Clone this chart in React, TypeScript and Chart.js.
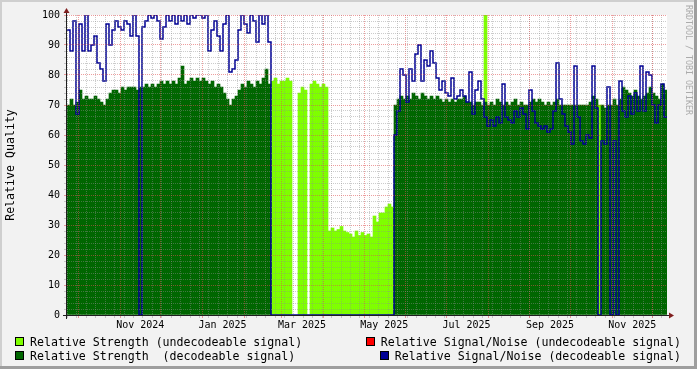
import React, { useEffect, useRef } from 'react';
import { Chart, registerables } from 'chart.js';

Chart.register(...registerables);

const MONO = '"DejaVu Sans Mono", monospace';

// ---- time axis -------------------------------------------------------------
const START_UTC = Date.UTC(2024, 8, 22, 16); // left edge of the plot
const SPAN_DAYS = 445.1; // width of the plot in days
const SAMPLE_COUNT = 200;
const STEP_DAYS = SPAN_DAYS / SAMPLE_COUNT;
const FIRST_WEEK: [number, number, number] = [2024, 8, 23];
const FIRST_MONTH: [number, number] = [2024, 9];

const X_LABELS = ['Nov 2024', 'Jan 2025', 'Mar 2025', 'May 2025', 'Jul 2025', 'Sep 2025', 'Nov 2025'];
const X_LABEL_MONTHS: [number, number][] = [
  [2024, 10], [2025, 0], [2025, 2], [2025, 4], [2025, 6], [2025, 8], [2025, 10],
];
const Y_LABELS = [0, 10, 20, 30, 40, 50, 60, 70, 80, 90, 100];
const Y_MINOR_STEP = 2;

const _ = null;

// ---- series (one value per sample) ------------------------------------------
const STRENGTH_DECODEABLE: (number | null)[] = [
  70, 72, 70, 71, 75, 72, 73, 72, 72, 73,
  72, 71, 70, 72, 74, 75, 75, 74, 76, 75,
  76, 76, 76, 75, 76, 76, 77, 76, 77, 76,
  77, 78, 77, 78, 77, 78, 77, 79, 83, 77,
  78, 79, 78, 79, 78, 79, 78, 77, 78, 76,
  77, 76, 74, 72, 70, 72, 73, 75, 77, 76,
  78, 77, 76, 78, 77, 79, 82, 77,
  _, _, _, _, _, _, _, _, _, _,
  _, _, _, _, _, _, _, _, _, _,
  _, _, _, _, _, _, _, _, _, _,
  _, _, _, _, _, _, _, _, _, _,
  _,
  70, 72, 73, 72, 73, 72, 74, 73, 72, 74, 73,
  72, 73, 72, 73, 72, 71, 72, 71, 72, 71, 72,
  72, 73, 71, 71, 70, 71, 71, 70, 71, 70,
  71, 70, 72, 71, 70, 71, 70, 71, 72, 70,
  71, 70, 70, 71, 72, 71, 72, 71, 70, 71,
  70, 71, 72, 70, 70, 70, 70, 70, 70, 70,
  70, 70, 70, 71, 73, 72,
  _,
  70, 69, 70, 70, 72, 70, 72,
  76, 75, 74, 73, 75, 73, 72, 73, 74, 76, 74, 73, 72, 77, 75,
];

const STRENGTH_UNDECODEABLE: (number | null)[] = [
  _, _, _, _, _, _, _, _, _, _,
  _, _, _, _, _, _, _, _, _, _,
  _, _, _, _, _, _, _, _, _, _,
  _, _, _, _, _, _, _, _, _, _,
  _, _, _, _, _, _, _, _, _, _,
  _, _, _, _, _, _, _, _, _, _,
  _, _, _, _, _, _, _, _,
  78, 79, 77, 78, 78, 79, 78,
  _, _,
  74, 76, 75,
  _,
  77, 78, 77, 76, 77, 76,
  28, 29, 28, 28.5, 29.5, 28, 27.5, 27, 26, 28, 26.5, 27.5, 26.5, 27, 26,
  33, 31, 34, 34, 36, 37, 36,
  _, _, _, _, _, _, _, _, _, _,
  _, _, _, _, _, _, _, _, _, _,
  _, _, _, _, _, _, _, _, _, _,
  100,
  _, _, _, _, _, _, _, _, _, _,
  _, _, _, _, _, _, _, _, _, _,
  _, _, _, _, _, _, _, _, _, _,
  _, _, _, _, _, _, _,
  70,
  _, _, _, _, _, _, _, _, _, _,
  _, _, _, _, _, _, _, _, _, _,
  _, _,
];

const SN_DECODEABLE: (number | null)[] = [
  95, 88, 98, 67, 97, 88, 100, 88, 90, 93,
  84, 82, 78, 97, 90, 95, 98, 96, 95, 98,
  97, 93, 100, 93, 0, 96, 98, 100, 99, 100,
  98, 92, 96, 100, 98, 100, 97, 100, 98, 100,
  97, 100, 99, 100, 100, 99, 100, 88, 95, 98,
  93, 88, 97, 100, 81, 82, 85, 95, 100, 97,
  94, 100, 98, 91, 100, 97, 100, 91,
  0, 0, 0, 0, 0, 0, 0, 0, 0, 0,
  0, 0, 0, 0, 0, 0, 0, 0, 0, 0,
  0, 0, 0, 0, 0, 0, 0, 0, 0, 0,
  0, 0, 0, 0, 0, 0, 0, 0, 0, 0,
  0,
  60, 68, 82, 80, 71, 82, 78, 87, 90, 78, 85,
  83, 88, 84, 79, 75, 78, 74, 73, 79, 72, 73,
  75, 73, 71, 81, 67, 75, 78, 72, 66, 63,
  65, 63, 66, 64, 77, 66, 65, 64, 68, 66,
  69, 67, 62, 75, 68, 64, 63, 62, 63, 61,
  62, 68, 84, 72, 67, 63, 61, 57, 83, 66,
  58, 57, 60, 59, 83, 69,
  0,
  58, 57, 76, 0, 58, 0, 78,
  68, 66, 73, 67, 74, 68, 83, 68, 81, 80, 70, 64, 70, 77, 66,
];

const LEGEND_LEFT = ['Relative Strength (undecodeable signal)', 'Relative Strength  (decodeable signal)'];
const LEGEND_RIGHT = ['Relative Signal/Noise (undecodeable signal)', 'Relative Signal/Noise (decodeable signal)'];
const WATERMARK = 'RRDTOOL / TOBI OETIKER';
const Y_TITLE = 'Relative Quality';

// ---- styles ------------------------------------------------------------------
const C_LIGHT = '#7fff00';
const C_DARK = '#006600';
const C_BLUE = '#000094';
const C_RED = '#ff0000';
const GRID = 'rgba(143,143,143,0.45)';
const MGRID = 'rgba(222,79,79,0.55)';
const NONE = 'rgba(0,0,0,0)';

const DAY_MS = 86400000;
const dayOffset = (y: number, m: number, d: number) => (Date.UTC(y, m, d) - START_UTC) / DAY_MS;

type XTick = { value: number; kind: string; text: string };
function buildXTicks(): XTick[] {
  const ticks: XTick[] = [];
  for (let d = dayOffset(...FIRST_WEEK); d <= SPAN_DAYS; d += 7) ticks.push({ value: d, kind: 'minor', text: '' });
  let [y, m] = FIRST_MONTH;
  for (;;) {
    const v = dayOffset(y, m, 1);
    if (v > SPAN_DAYS) break;
    ticks.push({ value: v, kind: 'major', text: '' });
    m++;
    if (m > 11) { m = 0; y++; }
  }
  X_LABELS.forEach((t, i) => {
    const [ly, lm] = X_LABEL_MONTHS[i];
    ticks.push({ value: dayOffset(ly, lm, 1) + 15, kind: 'label', text: t });
  });
  ticks.sort((a, b) => a.value - b.value);
  return ticks;
}

const barPoints = (arr: (number | null)[]) => arr.map((v, i) => ({ x: (i + 0.5) * STEP_DAYS, y: v }));
const linePoints = (arr: (number | null)[]) => [
  ...arr.map((v, i) => ({ x: i * STEP_DAYS, y: v })),
  { x: arr.length * STEP_DAYS, y: arr[arr.length - 1] },
];

const rrdPlugin = {
  id: 'rrdFrame',
  beforeDraw(chart: any) {
    const { ctx, width, height, chartArea: a } = chart;
    ctx.save();
    ctx.fillStyle = '#f2f2f2';
    ctx.fillRect(0, 0, width, height);
    ctx.fillStyle = '#cfcfcf';
    ctx.fillRect(0, 0, width, 2);
    ctx.fillRect(0, 0, 2, height);
    ctx.fillStyle = '#9e9e9e';
    ctx.fillRect(width - 3, 0, 3, height);
    ctx.fillRect(0, height - 3, width, 3);
    ctx.fillStyle = '#ffffff';
    ctx.fillRect(a.left, a.top, a.right - a.left, a.bottom - a.top);
    ctx.restore();
  },
  afterDraw(chart: any) {
    const { ctx, width, chartArea: a } = chart;
    ctx.save();
    // axes
    const ax = a.left - 0.5;
    const ay = a.bottom + 0.5;
    ctx.strokeStyle = '#1f1f1f';
    ctx.lineWidth = 1;
    ctx.beginPath();
    ctx.moveTo(a.left - 4, ay);
    ctx.lineTo(a.right + 4, ay);
    ctx.moveTo(ax, a.bottom + 4);
    ctx.lineTo(ax, a.top - 4);
    ctx.stroke();
    // arrows
    ctx.fillStyle = '#801f1f';
    ctx.beginPath();
    ctx.moveTo(a.right + 2, ay - 3);
    ctx.lineTo(a.right + 2, ay + 3);
    ctx.lineTo(a.right + 7, ay);
    ctx.closePath();
    ctx.fill();
    ctx.beginPath();
    ctx.moveTo(ax - 3, a.top - 2);
    ctx.lineTo(ax + 3, a.top - 2);
    ctx.lineTo(ax, a.top - 7);
    ctx.closePath();
    ctx.fill();

    // legend
    ctx.font = `11.6px ${MONO}`;
    ctx.textBaseline = 'alphabetic';
    ctx.textAlign = 'left';
    const rows = [345.5, 359.5];
    const swatch = (x: number, y: number, color: string) => {
      ctx.fillStyle = color;
      ctx.fillRect(x, y, 9, 9);
      ctx.strokeStyle = '#000';
      ctx.lineWidth = 1;
      ctx.strokeRect(x + 0.5, y + 0.5, 8, 8);
    };
    const leftColors = [C_LIGHT, C_DARK];
    const rightColors = [C_RED, C_BLUE];
    LEGEND_LEFT.forEach((label, i) => {
      swatch(15, rows[i] - 8.5, leftColors[i]);
      ctx.fillStyle = '#000';
      ctx.fillText(label, 30, rows[i]);
    });
    LEGEND_RIGHT.forEach((label, i) => {
      const w = ctx.measureText(label).width;
      const tx = width - 16 - w;
      swatch(Math.round(tx - 15), rows[i] - 8.5, rightColors[i]);
      ctx.fillStyle = '#000';
      ctx.fillText(label, tx, rows[i]);
    });

    // watermark
    ctx.translate(width - 9, 5);
    ctx.rotate(Math.PI / 2);
    ctx.font = `8.3px ${MONO}`;
    ctx.fillStyle = '#ababab';
    ctx.textBaseline = 'middle';
    ctx.fillText(WATERMARK, 0, 0);
    ctx.restore();
  },
};

const xColor = (c: any) => {
  const k = c.tick && c.tick.kind;
  return k === 'major' ? MGRID : k === 'minor' ? GRID : NONE;
};
const yColor = (c: any) => {
  if (!c.tick) return NONE;
  return Y_LABELS.includes(c.tick.value) ? MGRID : GRID;
};

export default function App() {
  const ref = useRef<HTMLCanvasElement>(null);
  useEffect(() => {
    const canvas = ref.current;
    if (!canvas) return;
    const chart = new Chart(canvas, {
      type: 'bar',
      data: {
        datasets: [
          {
            type: 'line',
            label: 'Relative Signal/Noise (decodeable signal)',
            data: linePoints(SN_DECODEABLE),
            borderColor: C_BLUE,
            borderWidth: 1.5,
            stepped: true,
            pointRadius: 0,
            fill: false,
            spanGaps: false,
            order: 0,
          } as any,
          {
            type: 'bar',
            label: 'Relative Strength (decodeable signal)',
            data: barPoints(STRENGTH_DECODEABLE),
            backgroundColor: C_DARK,
            borderWidth: 0,
            barThickness: 3,
            order: 1,
          } as any,
          {
            type: 'bar',
            label: 'Relative Strength (undecodeable signal)',
            data: barPoints(STRENGTH_UNDECODEABLE),
            backgroundColor: C_LIGHT,
            borderWidth: 0,
            barThickness: 3,
            order: 2,
          } as any,
        ],
      },
      options: {
        animation: false,
        responsive: false,
        devicePixelRatio: 1,
        events: [],
        layout: { autoPadding: false, padding: { left: 0, top: 15, right: 30, bottom: 0 } },
        plugins: { legend: { display: false }, tooltip: { enabled: false }, title: { display: false } },
        scales: {
          x: {
            type: 'linear',
            min: 0,
            max: SPAN_DAYS,
            offset: false,
            stacked: true,
            grid: { offset: false, z: 1, lineWidth: 1, tickLength: 3, drawTicks: true, color: xColor, tickColor: xColor, tickBorderDash: [] },
            border: { display: false, dash: [1, 1] },
            ticks: {
              autoSkip: false,
              maxRotation: 0,
              minRotation: 0,
              padding: 1,
              color: '#000',
              font: { family: MONO, size: 10 },
              callback: (_v: any, i: number, ticks: any[]) => (ticks[i] && ticks[i].text) || '',
            },
            afterBuildTicks: (axis: any) => { axis.ticks = buildXTicks(); },
            afterFit: (axis: any) => { axis.height = 54; axis.paddingLeft = 0; axis.paddingRight = 0; },
          } as any,
          y: {
            type: 'linear',
            min: 0,
            max: 100,
            stacked: false,
            grid: { z: 1, lineWidth: 1, tickLength: 3, drawTicks: true, color: yColor, tickColor: yColor, tickBorderDash: [] },
            border: { display: false, dash: [1, 1] },
            ticks: {
              autoSkip: false,
              padding: 4,
              color: '#000',
              font: { family: MONO, size: 10 },
              callback: (v: any) => (Y_LABELS.includes(v) ? String(v) : ''),
            },
            title: { display: true, text: Y_TITLE, color: '#000', font: { family: MONO, size: 11.6 }, padding: { top: 4, bottom: 0 } },
            afterBuildTicks: (axis: any) => {
              const t = [];
              for (let v = 0; v <= 100; v += Y_MINOR_STEP) t.push({ value: v });
              axis.ticks = t;
            },
            afterFit: (axis: any) => { axis.width = 67; axis.paddingTop = 0; axis.paddingBottom = 0; },
          } as any,
        },
      },
      plugins: [rrdPlugin],
    } as any);
    return () => chart.destroy();
  }, []);
  return (
    <div style={{ position: 'fixed', left: 0, top: 0, width: 697, height: 369 }}>
      <canvas ref={ref} width={697} height={369} style={{ display: 'block', width: 697, height: 369 }} />
    </div>
  );
}
